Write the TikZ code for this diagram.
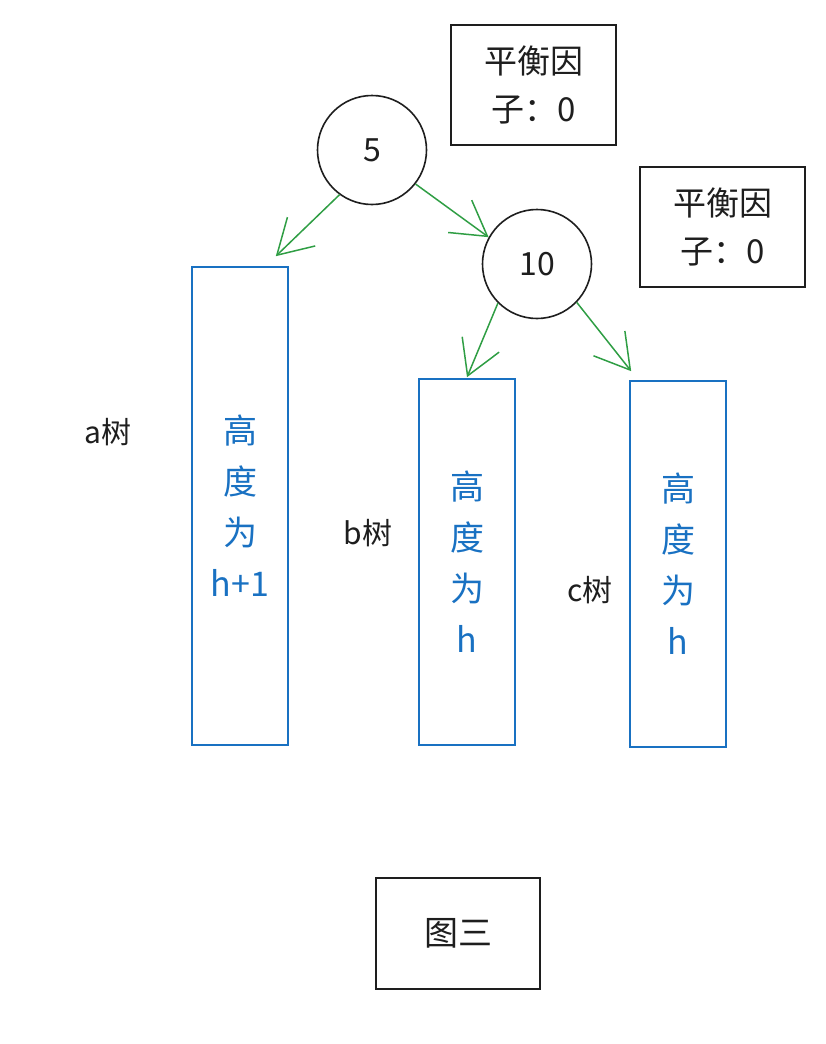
\documentclass[tikz,border=0pt]{standalone}
\usepackage{fontspec}
\usepackage{tikz}
\usetikzlibrary{arrows.meta}
\newfontfamily\cjk{Noto Sans CJK SC}
\definecolor{inkblack}{HTML}{1E1E1E}
\definecolor{inkblue}{HTML}{1971C2}
\definecolor{inkgreen}{HTML}{2F9E44}

\begin{document}
\begin{tikzpicture}[x=1pt,y=-1pt,
    knot/.style={circle, draw=inkblack, line width=1.6pt, minimum size=109pt, inner sep=0pt,
      text=inkblack, font=\cjk\fontsize{32}{38}\selectfont},
    factorbox/.style={draw=inkblack, line width=1.6pt, minimum width=165pt, minimum height=120pt,
      align=center, text=inkblack, font=\cjk\fontsize{33}{48}\selectfont},
    subtree/.style={draw=inkblue, line width=1.6pt, minimum width=96pt, inner sep=0pt,
      align=center, text=inkblue, font=\cjk\fontsize{34}{51}\selectfont},
    treelabel/.style={text=inkblack, font=\cjk\fontsize{30}{36}\selectfont},
    edge/.style={draw=inkgreen, line width=1.5pt,
      -{Straight Barb[length=34pt, width=40pt, line width=1.5pt]}}]

        \useasboundingbox (0,0) rectangle (826,1044);

        %Nodes
        \node [knot] (n5)  at (372,150) {5};
        \node [knot] (n10) at (537,264) {10};

        %Balance factors
        \node [factorbox] (bf5)  at (533.5,85) {平衡因\\子：0};
        \node [factorbox] (bf10) at (722.5,227) {平衡因\\子：0};

        %Subtrees
        \node [subtree, minimum height=478pt] (ta) at (240,506) {高\\度\\为\\h+1};
        \node [subtree, minimum height=366pt] (tb) at (467,562) {高\\度\\为\\h};
        \node [subtree, minimum height=366pt] (tc) at (678,564) {高\\度\\为\\h};

        %Labels
        \node [treelabel] (la) at (108,432) {a树};
        \node [treelabel] (lb) at (368,533) {b树};
        \node [treelabel] (lc) at (590,590) {c树};

        %Caption
        \node [draw=inkblack, line width=1.6pt, minimum width=164pt, minimum height=111pt,
          text=inkblack, font=\cjk\fontsize{34}{40}\selectfont] (cap) at (458,933.5) {图三};

        %Edges
        \draw [edge] (n5.-126)  -- ([shift={(-13,-10)}]ta.north east);
        \draw [edge] (n5.-38)   -- (n10.151);
        \draw [edge] (n10.-135) -- ([yshift=1pt]tb.north);
        \draw [edge] (n10.-44)  -- ([shift={(2,-9)}]tc.north west);
      \end{tikzpicture}
\end{document}
